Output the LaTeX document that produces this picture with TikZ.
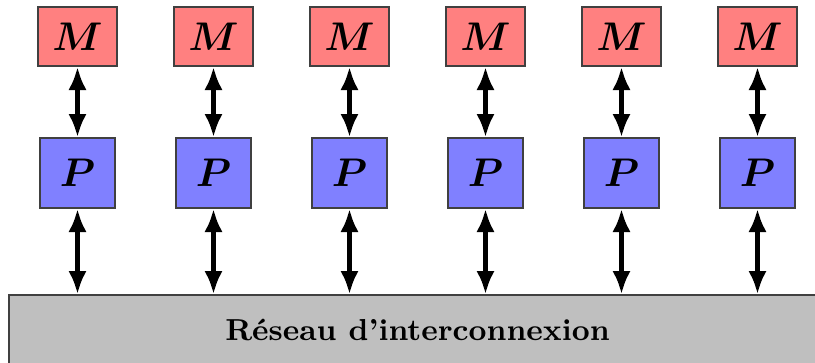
\documentclass[tikz,border=0pt]{standalone}
\usepackage{amsmath}
\usepackage{amssymb}
\usepackage{bm}
\usetikzlibrary{arrows.meta}

\begin{document}
\begin{tikzpicture}[x=0.3pt,y=-0.3pt,
  memoire/.style={draw=black!75, fill=red!50, inner sep=0pt,
    minimum width=23.7pt, minimum height=17.7pt, font=\large},
  proc/.style={draw=black!75, fill=blue!50, inner sep=0pt,
    minimum width=22.5pt, minimum height=21pt, font=\large},
  lien/.style={line width=1.7pt, {Latex[length=7pt,width=5.5pt]}-{Latex[length=7pt,width=5.5pt]}}]

% Cadre de la figure
\useasboundingbox (0,0) rectangle (815,362);

% Réseau d'interconnexion (en bas)
\node[draw=black!75, fill=gray!50, inner sep=0pt, minimum width=245.1pt,
  minimum height=21pt, font=\fontsize{9.1}{11}\selectfont\bfseries] (reseau) at (417.5,330) {Réseau d'interconnexion};

% Mémoires, processeurs et liaisons
\foreach \i in {0,...,5} {
  \node[memoire] (m\i) at (77.5+136*\i,36.5) {$\boldsymbol{M}$};
  \node[proc] (p\i) at (77.5+136*\i,173) {$\boldsymbol{P}$};
  \draw[lien] (m\i.south) -- (p\i.north);
  \draw[lien] (p\i.south) -- (p\i.south |- reseau.north);
}

\end{tikzpicture}
\end{document}
